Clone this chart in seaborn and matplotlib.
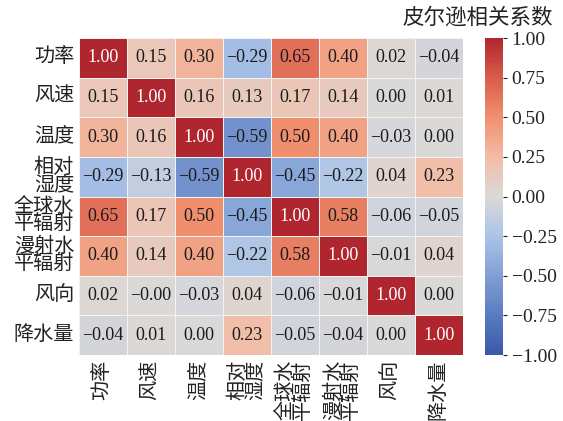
import numpy as np
import pandas as pd
import matplotlib
matplotlib.use("Agg")
import matplotlib.pyplot as plt
from matplotlib.colors import LinearSegmentedColormap
import seaborn as sns

# Variable names (multi-line for the long ones)
labels = ["功率", "风速", "温度", "相对\n湿度", "全球水\n平辐射", "漫射水\n平辐射", "风向", "降水量"]

# Pearson correlation matrix, one list per row
r_power = [1.00, 0.15, 0.30, -0.29, 0.65, 0.40, 0.02, -0.04]
r_wind = [0.15, 1.00, 0.16, 0.13, 0.17, 0.14, 0.00, 0.01]
r_temp = [0.30, 0.16, 1.00, -0.59, 0.50, 0.40, -0.03, 0.00]
r_humid = [-0.29, -0.13, -0.59, 1.00, -0.45, -0.22, 0.04, 0.23]
r_ghi = [0.65, 0.17, 0.50, -0.45, 1.00, 0.58, -0.06, -0.05]
r_dhi = [0.40, 0.14, 0.40, -0.22, 0.58, 1.00, -0.01, 0.04]
r_wdir = [0.02, -0.001, -0.03, 0.04, -0.06, -0.01, 1.00, 0.00]
r_rain = [-0.04, 0.01, 0.00, 0.23, -0.05, -0.04, 0.00, 1.00]

corr = pd.DataFrame([r_power, r_wind, r_temp, r_humid, r_ghi, r_dhi, r_wdir, r_rain],
                    index=labels, columns=labels)

# Cell labels with a typographic minus sign
annot_text = corr.apply(lambda col: col.map(lambda v: f"{v:.2f}".replace("-", "\u2212")))

# Softened blue-grey-red diverging palette
div_cmap = LinearSegmentedColormap.from_list(
    "soft_coolwarm",
    ["#3b58a8", "#5a7bc0", "#819fd5", "#abc4e7", "#dbd9d8",
     "#f3bca6", "#f0906f", "#d95d4b", "#b0262f"])

sns.set_theme(style="white")
plt.rcParams["font.family"] = ["Liberation Serif", "Noto Sans CJK SC"]
plt.rcParams["axes.unicode_minus"] = True

fig = plt.figure(figsize=(5.63, 4.21), dpi=100)
ax = fig.add_axes([79 / 563, 66 / 421, 384 / 563, 317 / 421])
cax = fig.add_axes([485 / 563, 66 / 421, 17.5 / 563, 317 / 421])

sns.heatmap(corr, ax=ax, cbar_ax=cax, cmap=div_cmap, vmin=-1, vmax=1,
            annot=annot_text, fmt="", annot_kws={"fontsize": 13},
            linewidths=0.6, linecolor="#f2f2f2")

# white text on the strongest cells, dark text elsewhere
for txt, v in zip(ax.texts, corr.values.ravel()):
    txt.set_color("white" if abs(v) > 0.9 else "#1a1a1a")

ax.tick_params(axis="both", length=0, labelsize=14.5, colors="#222222")
ax.set_xticklabels(labels, rotation=90, va="top", ha="center")
ax.set_yticklabels(labels, rotation=0, va="center")
for t in ax.get_xticklabels() + ax.get_yticklabels():
    t.set_linespacing(0.85)

cax.tick_params(labelsize=14, length=3, width=0.8, colors="#222222")
cax.set_yticks([-1, -0.75, -0.5, -0.25, 0, 0.25, 0.5, 0.75, 1])
cax.set_yticklabels(["\u22121.00", "\u22120.75", "\u22120.50", "\u22120.25",
                     "0.00", "0.25", "0.50", "0.75", "1.00"])

fig.text(553 / 563, 1 - 18 / 421, "皮尔逊相关系数", ha="right", va="center",
         fontsize=15.5, color="#222222")

fig.savefig("out.png", dpi=100)
